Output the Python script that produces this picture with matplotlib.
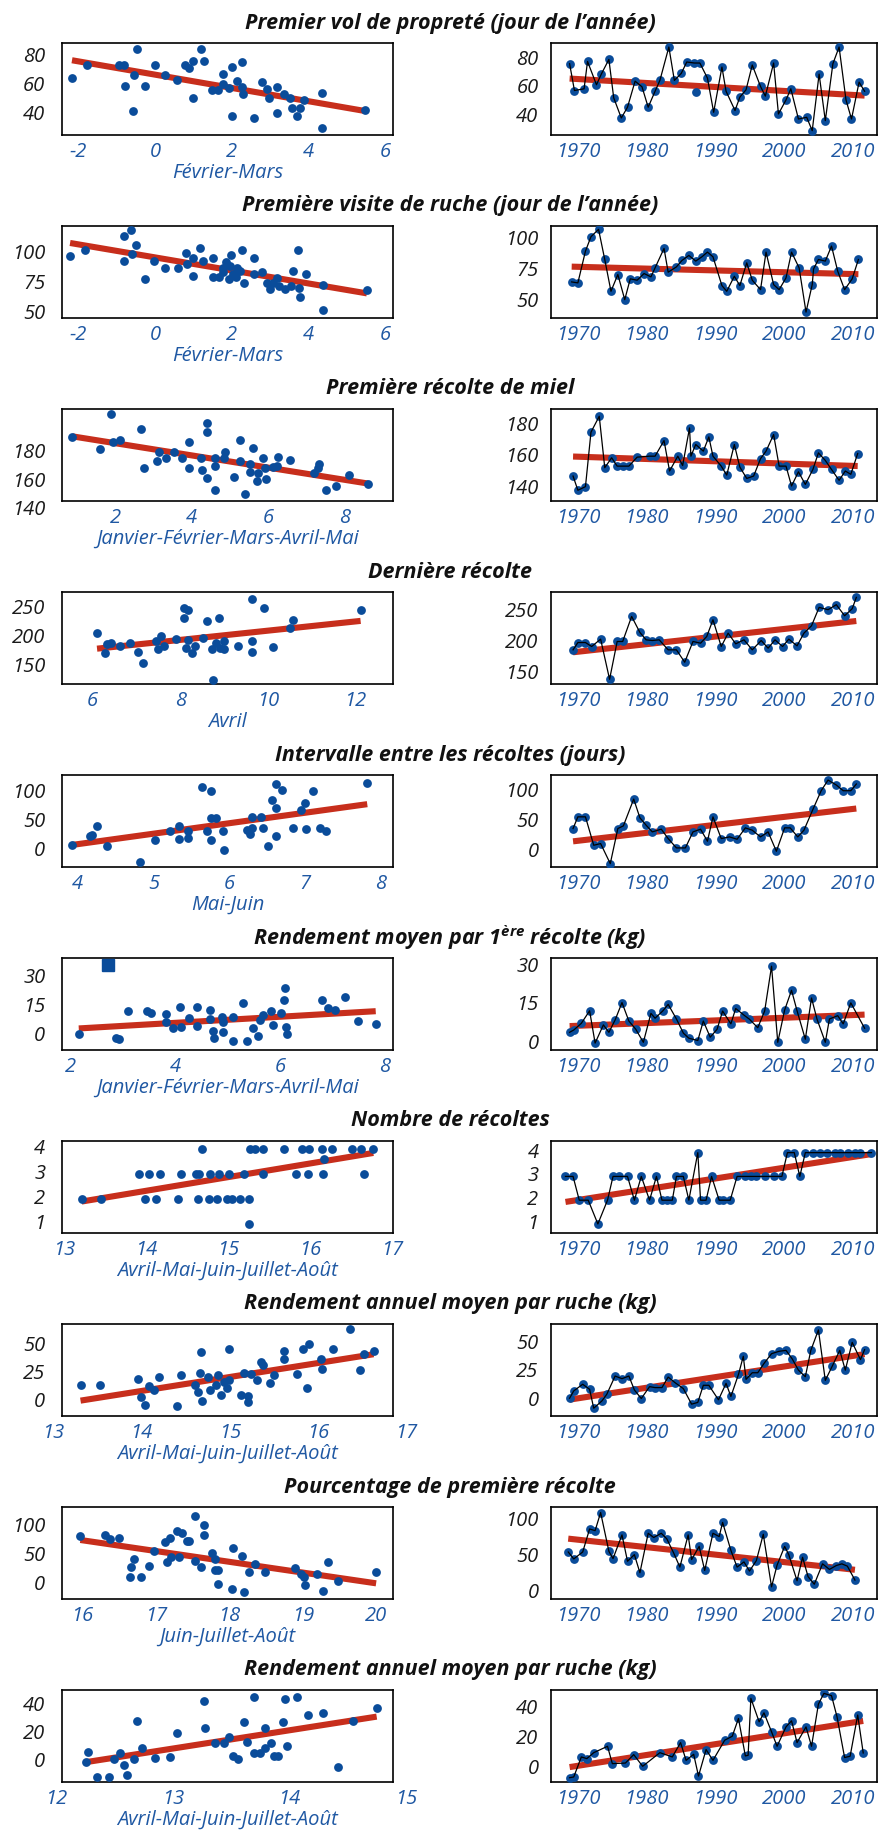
import numpy as np
import matplotlib.pyplot as plt

plt.rcParams['font.family'] = ['Open Sans', 'DejaVu Sans']
plt.rcParams['mathtext.fontset'] = 'custom'
plt.rcParams['mathtext.rm'] = 'Open Sans:italic:bold'

BLUE = '#0a4c9a'
RED = '#c4230f'
TICKBLUE = '#1f58a3'

titles = [
    "Premier vol de propreté (jour de l’année)",
    "Première visite de ruche (jour de l’année)",
    "Première récolte de miel",
    "Dernière récolte",
    "Intervalle entre les récoltes (jours)",
    r"Rendement moyen par 1$^{\mathrm{ère}}$ récolte (kg)",
    "Nombre de récoltes",
    "Rendement annuel moyen par ruche (kg)",
    "Pourcentage de première récolte",
    "Rendement annuel moyen par ruche (kg)",
]
xlabels = [
    "Février-Mars", "Février-Mars", "Janvier-Février-Mars-Avril-Mai", "Avril",
    "Mai-Juin", "Janvier-Février-Mars-Avril-Mai", "Avril-Mai-Juin-Juillet-Août",
    "Avril-Mai-Juin-Juillet-Août", "Juin-Juillet-Août", "Avril-Mai-Juin-Juillet-Août",
]
year_ticks = [1970, 1980, 1990, 2000, 2010]

# (climate variable, value) pairs for the left panels, (year, value) for the right ones
vol_clim = np.array([
    (-2.16, 65.7), (-1.78, 74.7), (-0.93, 74.7), (-0.80, 74.7), (-0.78, 60.2), (-0.56, 67.8),
    (-0.58, 42.8), (-0.47, 85.7), (-0.26, 60.2), (0.0, 74.7), (0.27, 67.8), (0.58, 64.4),
    (0.79, 74.7), (0.88, 72.2), (0.99, 77.0), (0.99, 52.0), (1.20, 85.7), (1.27, 77.0),
    (1.49, 57.2), (1.64, 57.2), (1.78, 68.0), (1.78, 61.6), (1.93, 58.6), (1.99, 72.9),
    (1.99, 39.5), (2.13, 63.2), (2.25, 76.8), (2.26, 59.5), (2.30, 54.7), (2.58, 37.9),
    (2.77, 63.0), (2.90, 57.7), (2.96, 51.7), (3.16, 41.4), (3.18, 59.0), (3.35, 54.3),
    (3.52, 52.0), (3.55, 44.8), (3.69, 39.3), (3.76, 45.1), (3.88, 50.6), (4.34, 55.4),
    (4.34, 31.0), (5.46, 43.2)])
vol_years = np.array([
    (1968.8, 77.2), (1969.5, 58.6), (1970.9, 59.8), (1971.4, 78.8), (1972.7, 62.6), (1973.4, 70.0),
    (1974.5, 80.2), (1975.2, 53.5), (1976.3, 39.5), (1977.2, 47.0), (1978.3, 65.1), (1979.3, 61.2),
    (1980.2, 47.0), (1981.2, 58.1), (1981.9, 65.6), (1983.2, 88.8), (1984.0, 65.6), (1985.0, 70.5),
    (1985.8, 78.4), (1986.9, 77.7), (1987.7, 77.7), (1988.8, 67.2), (1989.7, 43.5), (1990.9, 74.9),
    (1991.5, 58.1), (1992.8, 44.7), (1993.5, 54.0), (1994.4, 59.1), (1995.3, 76.3), (1996.5, 61.4),
    (1997.2, 54.7), (1998.4, 77.7), (1999.1, 42.3), (2000.2, 52.1), (2000.9, 59.8), (2002.0, 38.8),
    (2003.2, 40.0), (2004.0, 30.7), (2005.0, 70.0), (2005.9, 37.7), (2007.0, 77.2), (2007.9, 88.8),
    (2008.9, 52.1), (2009.7, 38.8), (2010.8, 64.4), (2011.6, 58.1)])
vol_extra = np.array([(1987.1, 57.4)])

visite_clim = np.array([
    (-2.21, 99.1), (-1.82, 104.0), (-0.81, 115.6), (-0.81, 94.9), (-0.63, 120.5), (-0.59, 100.6),
    (-0.50, 107.7), (-0.26, 79.3), (-0.03, 94.9), (0.25, 88.6), (0.59, 88.6), (0.81, 101.1),
    (0.84, 92.0), (0.98, 96.9), (0.99, 81.8), (1.17, 105.4), (1.26, 94.3), (1.51, 96.9),
    (1.52, 80.7), (1.67, 80.7), (1.76, 88.6), (1.77, 85.5), (1.85, 94.0), (1.92, 79.3),
    (1.95, 90.6), (1.98, 99.7), (2.04, 83.5), (2.11, 80.7), (2.14, 88.6), (2.21, 85.8),
    (2.27, 104.0), (2.32, 76.1), (2.57, 83.5), (2.58, 96.9), (2.77, 85.5), (2.92, 75.6),
    (2.99, 70.7), (3.06, 75.6), (3.18, 79.8), (3.23, 73.6), (3.37, 70.7), (3.53, 73.6),
    (3.58, 86.4), (3.72, 104.0), (3.74, 72.2), (3.78, 64.5), (3.92, 83.8), (4.37, 74.4),
    (4.37, 53.1), (5.51, 70.5)])
visite_years = np.array([
    (1969.1, 66.3), (1970.0, 65.5), (1971.1, 91.3), (1971.9, 103.0), (1973.0, 109.0), (1973.9, 84.5),
    (1974.8, 58.7), (1975.8, 72.3), (1976.8, 51.9), (1977.6, 68.8), (1978.6, 67.7), (1979.6, 73.1),
    (1980.6, 70.4), (1981.2, 77.7), (1982.5, 93.5), (1983.1, 74.2), (1984.3, 78.5), (1985.1, 83.7),
    (1986.1, 87.8), (1987.1, 83.2), (1988.0, 86.7), (1988.8, 90.5), (1989.6, 86.7), (1990.9, 63.3),
    (1991.6, 58.7), (1992.7, 70.9), (1993.5, 63.3), (1994.5, 81.8), (1995.3, 67.7), (1996.5, 60.0),
    (1997.3, 90.5), (1998.4, 64.1), (1999.2, 60.0), (2000.2, 69.6), (2001.0, 90.5), (2002.1, 77.7),
    (2003.1, 41.8), (2004.0, 64.1), (2004.2, 76.9), (2004.9, 84.5), (2005.9, 83.2), (2006.8, 95.4),
    (2007.7, 75.0), (2008.7, 60.0), (2009.8, 68.8), (2010.7, 84.5)])

recolte1_clim = np.array([
    (0.87, 191.5), (1.6, 182.8), (1.88, 207.5), (1.93, 188.0), (2.13, 189.4), (2.66, 196.9),
    (2.75, 169.4), (3.1, 174.6), (3.15, 180.5), (3.32, 176.5), (3.54, 180.5), (3.75, 176.9),
    (3.93, 169.4), (3.94, 187.5), (4.25, 176.9), (4.26, 168.0), (4.4, 201.2), (4.4, 194.6),
    (4.4, 162.4), (4.6, 171.1), (4.6, 176.9), (4.6, 153.9), (4.84, 176.9), (4.87, 180.9),
    (5.12, 163.5), (5.26, 189.2), (5.28, 174.6), (5.4, 151.1), (5.54, 172.7), (5.54, 166.8),
    (5.62, 183.5), (5.72, 160.5), (5.74, 166.4), (5.87, 176.7), (5.93, 169.4), (5.96, 162.1),
    (6.13, 170.6), (6.24, 171.1), (6.26, 177.6), (6.59, 175.1), (7.21, 166.4), (7.32, 169.9),
    (7.35, 172.2), (7.53, 153.9), (7.79, 156.9), (8.13, 164.5), (8.62, 158.1)])
recolte1_years = np.array([
    (1969.3, 148.0), (1970.0, 139.0), (1971.1, 141.3), (1971.9, 175.8), (1973.1, 185.9), (1973.9, 153.3),
    (1974.9, 159.6), (1975.7, 154.3), (1976.5, 154.3), (1977.4, 154.3), (1978.6, 160.0), (1980.4, 160.6),
    (1981.2, 160.6), (1982.5, 170.5), (1983.3, 151.2), (1984.5, 160.6), (1985.2, 154.7), (1986.2, 178.5),
    (1986.4, 160.6), (1987.1, 168.0), (1988.2, 163.8), (1989.0, 172.8), (1989.6, 160.6), (1990.8, 154.3),
    (1991.6, 148.6), (1992.7, 168.0), (1993.5, 153.7), (1994.5, 146.5), (1995.5, 148.0), (1996.5, 159.0),
    (1997.3, 163.8), (1998.4, 174.3), (1999.2, 154.3), (2000.2, 154.3), (2001.0, 141.7), (2002.0, 150.7),
    (2003.0, 142.7), (2004.1, 152.2), (2004.9, 162.7), (2005.9, 157.9), (2006.8, 152.2), (2007.9, 145.3),
    (2008.8, 151.2), (2009.6, 149.1), (2010.6, 162.3)])

derniere_clim = np.array([
    (6.1, 208.7), (6.28, 173.8), (6.32, 190.1), (6.41, 191.3), (6.63, 185.5), (6.85, 191.3),
    (7.03, 175.6), (7.15, 156.4), (7.44, 194.2), (7.5, 181.4), (7.56, 202.9), (7.63, 185.5),
    (7.9, 198.3), (8.08, 252.3), (8.08, 234.9), (8.18, 247.7), (8.14, 182.6), (8.18, 197.1),
    (8.27, 173.8), (8.33, 185.5), (8.53, 200.0), (8.62, 229.1), (8.72, 181.4), (8.76, 127.3),
    (8.81, 191.3), (8.88, 233.7), (8.91, 182.6), (9.01, 194.2), (9.01, 181.4), (9.32, 185.5),
    (9.65, 194.2), (9.65, 175.6), (9.65, 266.9), (9.92, 252.3), (10.13, 184.3), (10.51, 217.4),
    (10.58, 230.2), (12.12, 247.7)])
derniere_years = np.array([
    (1969.3, 189.2), (1970.0, 201.0), (1971.1, 201.0), (1972.0, 194.6), (1973.3, 206.5), (1974.6, 141.6),
    (1975.7, 202.7), (1976.5, 202.7), (1977.8, 243.2), (1979.0, 217.3), (1979.9, 205.4), (1980.8, 204.3),
    (1981.8, 205.4), (1983.1, 189.2), (1984.3, 189.2), (1985.5, 169.2), (1986.7, 202.7), (1987.8, 200.0),
    (1988.7, 210.8), (1989.6, 237.8), (1990.8, 194.6), (1991.8, 216.2), (1992.9, 198.9), (1994.1, 205.4),
    (1995.3, 189.2), (1996.6, 204.3), (1997.6, 191.9), (1998.6, 205.4), (1999.7, 194.6), (2000.6, 206.5),
    (2001.8, 195.7), (2002.8, 216.2), (2003.9, 228.1), (2005.0, 257.8), (2006.3, 254.1), (2007.5, 262.2),
    (2008.7, 244.3), (2009.8, 255.7), (2010.4, 274.0)])

intervalle_clim = np.array([
    (3.92, 11.4), (4.16, 26.9), (4.19, 28.6), (4.25, 44.0), (4.39, 8.6), (4.82, -18.9),
    (5.02, 20.0), (5.21, 35.4), (5.34, 44.0), (5.34, 21.1), (5.46, 35.4), (5.46, 22.9),
    (5.64, 110.3), (5.71, 34.3), (5.76, 104.6), (5.76, 20.0), (5.76, 57.1), (5.82, 57.1),
    (5.91, 34.3), (5.93, 1.7), (6.23, 36.0), (6.27, 30.3), (6.30, 58.3), (6.30, 40.0),
    (6.42, 58.3), (6.44, 40.0), (6.51, 9.7), (6.56, 88.6), (6.61, 26.9), (6.61, 74.3),
    (6.61, 115.4), (6.70, 105.7), (6.84, 40.0), (6.95, 71.4), (7.00, 84.0), (7.01, 38.3),
    (7.11, 104.6), (7.19, 40.0), (7.27, 35.4), (7.82, 117.1)])
intervalle_years = np.array([
    (1969.3, 38.9), (1970.0, 58.3), (1971.1, 58.3), (1972.3, 11.1), (1973.3, 13.9), (1974.7, -19.4),
    (1975.8, 38.9), (1976.6, 43.3), (1978.1, 87.8), (1979.0, 56.7), (1979.9, 44.4), (1980.8, 33.3),
    (1982.1, 37.8), (1983.1, 22.2), (1984.3, 6.7), (1985.6, 6.7), (1986.7, 33.3), (1987.8, 37.8),
    (1988.8, 17.8), (1989.6, 58.3), (1990.8, 22.2), (1992.0, 25.0), (1993.1, 21.1), (1994.3, 40.0),
    (1995.3, 36.1), (1996.5, 25.0), (1997.6, 33.3), (1998.8, 1.1), (2000.0, 40.0), (2000.8, 40.0),
    (2001.9, 25.0), (2002.8, 36.1), (2004.1, 70.6), (2005.3, 101.7), (2006.3, 119.4), (2007.5, 111.1),
    (2008.5, 101.7), (2009.6, 101.7), (2010.4, 112.8)])

rend1_clim = np.array([
    (2.15, 0.8), (2.86, -1.5), (2.92, -1.8), (3.09, 12.7), (3.45, 12.7), (3.52, 11.9),
    (3.81, 11.0), (3.82, 7.2), (3.94, 3.7), (4.08, 14.5), (4.10, 4.6), (4.25, 9.3),
    (4.40, 14.5), (4.41, 5.1), (4.65, 13.3), (4.65, 8.4), (4.72, 2.3), (4.74, -1.5),
    (4.89, 9.8), (4.90, 7.2), (4.90, 2.0), (5.09, 9.8), (5.10, -2.9), (5.28, 16.7),
    (5.37, -2.9), (5.47, 3.7), (5.58, -0.1), (5.61, 8.1), (5.67, 10.7), (5.83, 12.7),
    (5.86, 5.5), (6.01, 11.5), (6.06, 18.5), (6.08, 24.5), (6.10, 4.6), (6.12, 0.6),
    (6.80, 18.5), (6.90, 14.1), (7.05, 13.3), (7.23, 19.7), (7.48, 7.5), (7.82, 6.0)])
rend1_square = np.array([(2.7, 36.3)])
rend1_years = np.array([
    (1968.8, 4.4), (1969.4, 5.3), (1970.5, 7.9), (1971.7, 12.8), (1972.5, 0.2), (1973.7, 7.3),
    (1974.5, 4.4), (1975.4, 9.2), (1976.4, 16.0), (1977.4, 8.8), (1978.4, 5.6), (1979.5, 0.5),
    (1980.6, 11.8), (1981.2, 9.9), (1982.3, 12.7), (1983.1, 15.3), (1984.3, 9.6), (1985.3, 4.1),
    (1986.1, 2.1), (1987.4, 1.2), (1988.2, 8.8), (1989.2, 2.5), (1990.2, 5.6), (1991.0, 12.7),
    (1992.2, 7.7), (1992.9, 13.7), (1994.1, 11.1), (1994.9, 9.5), (1996.1, 6.2), (1997.1, 12.7),
    (1998.1, 30.2), (1999.0, 0.5), (2000.0, 13.1), (2001.0, 20.8), (2001.8, 12.8), (2003.0, 1.7),
    (2003.9, 17.8), (2004.7, 9.5), (2005.9, 0.5), (2006.5, 9.6), (2007.7, 10.9), (2008.5, 7.7),
    (2009.6, 15.9), (2011.6, 6.0)])

nombre_clim = np.array([
    (14.68, 4), (15.27, 4), (15.33, 4), (15.42, 4), (15.68, 4), (15.90, 4), (15.99, 4),
    (16.14, 4), (16.27, 4), (16.51, 4), (16.62, 4), (16.77, 4), (16.17, 3.62),
    (13.91, 3), (14.03, 3), (14.17, 3), (14.42, 3), (14.60, 3), (14.64, 3), (14.78, 3),
    (14.89, 3), (15.01, 3), (15.19, 3), (15.42, 3), (15.83, 3), (15.97, 3), (16.15, 3), (16.66, 3),
    (13.21, 2), (13.45, 2), (13.98, 2), (14.12, 2), (14.38, 2), (14.63, 2), (14.77, 2),
    (14.86, 2), (14.99, 2), (15.04, 2), (15.14, 2), (15.25, 2), (15.25, 1)])
nombre_years = np.array([
    (1968.2, 3), (1969.3, 3), (1970.2, 2), (1971.5, 2), (1972.9, 1), (1974.3, 2), (1975.1, 3),
    (1975.9, 3), (1977.2, 3), (1978.2, 2), (1979.2, 3), (1980.4, 2), (1981.4, 3), (1982.2, 2),
    (1982.9, 2), (1983.7, 2), (1984.3, 3), (1985.3, 3), (1986.1, 2), (1987.4, 4), (1987.8, 2),
    (1988.6, 2), (1989.4, 3), (1990.5, 2), (1991.0, 2), (1992.1, 2), (1993.1, 3), (1994.3, 3),
    (1995.1, 3), (1995.9, 3), (1997.1, 3), (1998.4, 3), (1999.6, 3), (2000.4, 4), (2001.4, 4),
    (2002.2, 3), (2003.0, 4), (2004.1, 4), (2005.1, 4), (2006.1, 4), (2007.3, 4), (2008.1, 4),
    (2009.2, 4), (2010.2, 4), (2011.0, 4), (2012.6, 4)])

rendann_clim = np.array([
    (13.31, 15.1), (13.53, 14.5), (13.96, 20.5), (14.00, 3.9), (14.04, -2.7), (14.08, 13.9),
    (14.14, 9.9), (14.20, 22.0), (14.40, -3.6), (14.45, 23.5), (14.61, 14.5), (14.64, 8.4),
    (14.66, 25.9), (14.67, 44.6), (14.69, 0.9), (14.75, 22.0), (14.78, 9.9), (14.85, 14.5),
    (14.87, 24.1), (14.90, 6.3), (14.94, 17.5), (14.97, 12.3), (14.99, 47.0), (14.99, 19.0),
    (15.13, 6.3), (15.16, 25.9), (15.21, 5.4), (15.21, 0.0), (15.24, 24.4), (15.31, 19.0),
    (15.35, 35.5), (15.38, 32.5), (15.46, 16.9), (15.50, 24.1), (15.62, 38.0), (15.62, 45.2),
    (15.76, 25.0), (15.83, 47.0), (15.90, 51.2), (15.88, 12.0), (16.03, 38.0), (16.05, 28.9),
    (16.17, 47.0), (16.36, 65.1), (16.48, 28.0), (16.52, 43.1), (16.63, 45.2)])
rendann_years = np.array([
    (1968.8, 2.3), (1969.4, 8.7), (1970.7, 14.5), (1971.7, 10.1), (1972.3, -6.5), (1973.5, 0.0),
    (1974.2, 5.8), (1975.4, 21.7), (1976.4, 19.4), (1977.4, 21.7), (1978.2, 9.5), (1979.2, 2.0),
    (1980.4, 12.4), (1981.2, 11.6), (1982.2, 11.6), (1983.1, 20.8), (1984.1, 15.9), (1985.3, 10.7),
    (1986.5, -2.9), (1987.4, -1.4), (1988.2, 13.6), (1989.0, 13.6), (1990.4, 0.9), (1991.5, 15.3),
    (1992.2, 3.8), (1993.3, 23.1), (1994.0, 39.0), (1994.4, 18.8), (1995.3, 24.6), (1996.1, 24.6),
    (1997.0, 32.7), (1998.1, 41.3), (1999.2, 43.4), (2000.2, 44.2), (2001.1, 36.7), (2002.0, 26.9),
    (2003.0, 21.1), (2003.8, 44.2), (2004.9, 62.1), (2005.9, 17.9), (2006.9, 30.3), (2008.0, 44.2),
    (2008.8, 26.9), (2009.8, 51.2), (2011.0, 36.1), (2011.6, 44.8)])

pourcent_clim = np.array([
    (15.97, 84.5), (16.31, 86.2), (16.37, 78.7), (16.5, 80.5), (16.65, 13.8), (16.66, 29.9),
    (16.7, 44.3), (16.8, 13.8), (16.9, 31.6), (16.97, 57.5), (17.12, 74.7), (17.15, 38.5),
    (17.19, 80.5), (17.21, 48.3), (17.29, 93.1), (17.31, 48.3), (17.35, 90.2), (17.42, 75.9),
    (17.45, 75.9), (17.53, 119.0), (17.53, 41.4), (17.61, 31.0), (17.65, 86.2), (17.66, 103.4),
    (17.76, 55.7), (17.8, 44.3), (17.81, 25.9), (17.85, 25.9), (17.85, 1.1), (18.03, -8.0),
    (18.05, 63.2), (18.17, 48.9), (18.2, -12.0), (18.27, 22.4), (18.35, 35.6), (18.49, 22.4),
    (18.89, 28.2), (18.98, 18.4), (19.02, 13.8), (19.03, -0.6), (19.2, 18.4), (19.27, -11.0),
    (19.34, 38.5), (19.48, 5.7), (20.0, 22.4)])
pourcent_years = np.array([
    (1968.6, 57.3), (1969.4, 47.7), (1970.7, 57.3), (1971.7, 89.1), (1972.5, 86.8), (1973.3, 111.8),
    (1974.5, 58.2), (1975.1, 48.2), (1976.4, 80.9), (1977.2, 44.5), (1978.2, 53.6), (1979.0, 28.6),
    (1980.2, 83.2), (1981.0, 77.3), (1982.1, 83.2), (1982.9, 75.5), (1983.9, 55.9), (1984.8, 36.4),
    (1986.0, 80.9), (1986.5, 46.8), (1987.6, 65.0), (1988.4, 31.8), (1989.6, 83.2), (1990.5, 78.6),
    (1991.0, 98.2), (1992.2, 59.5), (1993.1, 36.4), (1994.1, 43.6), (1994.9, 30.9), (1995.9, 45.5),
    (1996.9, 81.8), (1998.1, 9.1), (1998.9, 39.1), (2000.0, 65.0), (2000.6, 53.6), (2001.8, 17.5),
    (2002.6, 50.0), (2003.4, 23.2), (2004.3, 12.7), (2005.5, 40.9), (2006.5, 33.2), (2007.5, 38.6),
    (2008.3, 40.9), (2009.1, 37.7), (2010.2, 18.5)])

rendann2_clim = np.array([
    (12.26, 0.0), (12.27, 7.3), (12.35, -11.2), (12.45, -11.2), (12.50, 2.2), (12.55, 6.1),
    (12.58, -2.4), (12.61, -9.7), (12.67, 2.2), (12.69, 29.6), (12.74, 10.2), (12.85, 2.9),
    (12.98, 3.6), (13.04, 20.6), (13.27, 44.1), (13.28, 24.7), (13.36, 13.3), (13.44, 13.3),
    (13.48, 17.5), (13.52, 4.1), (13.56, 1.7), (13.61, 28.4), (13.64, 14.3), (13.70, 46.5),
    (13.70, 6.1), (13.75, 6.1), (13.79, 24.7), (13.79, 9.5), (13.84, 13.8), (13.87, 4.1),
    (13.90, 4.1), (13.95, 28.4), (13.96, 45.3), (13.98, 11.4), (14.07, 46.5), (14.16, 33.7),
    (14.29, 35.2), (14.42, -3.6), (14.55, 29.6), (14.75, 38.8)])
rendann2_years = np.array([
    (1968.8, -6.1), (1969.4, -5.6), (1970.5, 7.9), (1971.3, 6.8), (1972.3, 10.8), (1974.3, 15.1),
    (1975.0, 3.4), (1976.9, 3.8), (1978.1, 9.5), (1979.4, 1.6), (1981.9, 10.8), (1983.7, 7.9),
    (1984.9, 17.6), (1985.7, 5.6), (1986.8, 9.7), (1987.5, -5.0), (1988.6, 12.9), (1989.6, 5.6),
    (1991.3, 19.2), (1992.4, 21.9), (1993.3, 33.9), (1994.3, 8.6), (1994.7, 9.0), (1995.1, 47.5),
    (1996.3, 31.6), (1997.0, 37.7), (1998.1, 24.9), (1998.9, 15.1), (2000.2, 28.2), (2001.0, 32.3),
    (2001.8, 17.6), (2003.1, 28.2), (2003.9, 15.1), (2004.9, 43.6), (2005.7, 50.8), (2006.8, 49.3),
    (2007.6, 35.0), (2008.7, 7.5), (2009.5, 8.4), (2010.6, 36.2), (2011.4, 10.6)])

rows = [
    dict(left=vol_clim, right=vol_years, lx=(-2.42, 6.19), ly=(26.2, 89.7), ry=(27.7, 91.6),
         xt=[-2, 0, 2, 4, 6], yt=[40, 60, 80]),
    dict(left=visite_clim, right=visite_years, lx=(-2.42, 6.19), ly=(46.6, 123.9), ry=(37, 111.7),
         xt=[-2, 0, 2, 4, 6], yt=[50, 75, 100]),
    dict(left=recolte1_clim, right=recolte1_years, lx=(0.6, 9.28), ly=(146.4, 211), ry=(132.2, 190.5),
         xt=[2, 4, 6, 8], yt=[140, 160, 180]),
    dict(left=derniere_clim, right=derniere_years, lx=(5.3, 12.86), ly=(119.8, 279.7), ry=(134, 282.7),
         xt=[6, 8, 10, 12], yt=[150, 200, 250]),
    dict(left=intervalle_clim, right=intervalle_years, lx=(3.79, 8.16), ly=(-26.9, 131.4), ry=(-25, 127.8),
         xt=[4, 5, 6, 7, 8], yt=[0, 50, 100]),
    dict(left=rend1_clim, right=rend1_years, lx=(1.83, 8.15), ly=(-7.5, 40.1), ry=(-2.5, 33.4),
         xt=[2, 4, 6, 8], yt=[0, 15, 30]),
    dict(left=nombre_clim, right=nombre_years, lx=(12.97, 17.01), ly=(0.65, 4.32), ry=(0.62, 4.49),
         xt=[13, 14, 15, 16, 17], yt=[1, 2, 3, 4]),
    dict(left=rendann_clim, right=rendann_years, lx=(13.1, 16.85), ly=(-13, 69.6), ry=(-13.3, 67.3),
         xt=[13, 14, 15, 16, 17], yt=[0, 25, 50]),
    dict(left=pourcent_clim, right=pourcent_years, lx=(15.72, 20.23), ly=(-24.7, 134.5), ry=(-7.7, 119.5),
         xt=[16, 17, 18, 19, 20], yt=[0, 50, 100]),
    dict(left=rendann2_clim, right=rendann2_years, lx=(12.05, 14.89), ly=(-14.8, 51.9), ry=(-9, 53.1),
         xt=[12, 13, 14, 15], yt=[0, 20, 40]),
]

W, H = 882, 1836
FS = 14.5


def trend(ax, pts):
    a, b = np.polyfit(pts[:, 0], pts[:, 1], 1)
    xs = np.array([pts[:, 0].min(), pts[:, 0].max()])
    ax.plot(xs, a * xs + b, color=RED, lw=4.4, solid_capstyle='butt', zorder=2, alpha=0.95)


def tick_labels(ax, xt, yt, ypad):
    # labels are written by hand: some of them sit outside the axis range
    ax.set_xticks([])
    ax.set_yticks([])
    for v in yt:
        ax.annotate(str(v), xy=(0, v), xycoords=('axes fraction', 'data'), xytext=(-ypad, 0),
                    textcoords='offset points', ha='right', va='center', fontsize=FS,
                    style='italic', color='#1a1a1a', annotation_clip=False)
    for v in xt:
        ax.annotate(str(v), xy=(v, 0), xycoords=('data', 'axes fraction'), xytext=(0, -12),
                    textcoords='offset points', ha='center', va='center', fontsize=FS,
                    style='italic', color=TICKBLUE, annotation_clip=False)
    for s in ax.spines.values():
        s.set_linewidth(1.2)


fig = plt.figure(figsize=(W / 100, H / 100), dpi=100)

for k, r in enumerate(rows):
    top = 43 + 183 * k
    y0 = 1 - (top + 92) / H
    h = 92 / H

    axl = fig.add_axes([62 / W, y0, 331 / W, h])
    axl.scatter(r['left'][:, 0], r['left'][:, 1], s=40, color=BLUE, zorder=3, linewidths=0)
    trend(axl, r['left'])
    axl.set_xlim(*r['lx'])
    axl.set_ylim(*r['ly'])
    tick_labels(axl, r['xt'], r['yt'], 12)
    axl.annotate(xlabels[k], xy=(0.5, 0), xycoords='axes fraction', xytext=(0, -27.5),
                 textcoords='offset points', ha='center', va='center', fontsize=FS,
                 style='italic', color=TICKBLUE, annotation_clip=False)

    axr = fig.add_axes([551 / W, y0, 326 / W, h])
    axr.scatter(r['right'][:, 0], r['right'][:, 1], s=40, color=BLUE, zorder=3, linewidths=0)
    axr.plot(r['right'][:, 0], r['right'][:, 1], color='black', lw=0.9, zorder=4)
    trend(axr, r['right'])
    axr.set_xlim(1966.1, 2013.4)
    axr.set_ylim(*r['ry'])
    tick_labels(axr, year_ticks, r['yt'], 9)

    fig.text(450 / W, 1 - (top - 20) / H, titles[k], ha='center', va='center',
             fontsize=15.5, weight='bold', style='italic', color='#111111')

    if k == 0:
        axr.scatter(vol_extra[:, 0], vol_extra[:, 1], s=40, color=BLUE, zorder=3, linewidths=0)
    if k == 5:
        axl.plot(rend1_square[:, 0], rend1_square[:, 1], 's', ms=8.5, color=BLUE,
                 clip_on=False, zorder=3)

fig.savefig('out.png', dpi=100)
